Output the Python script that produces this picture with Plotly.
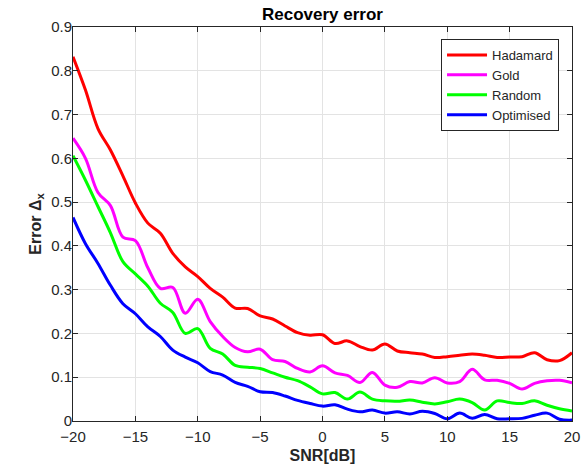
import plotly.graph_objects as go

snr = list(range(-20, 21))

hadamard = [0.832, 0.756, 0.668, 0.619, 0.560, 0.498, 0.452, 0.429, 0.383, 0.352,
            0.330, 0.303, 0.283, 0.258, 0.257, 0.240, 0.233, 0.217, 0.202, 0.196,
            0.197, 0.177, 0.183, 0.170, 0.162, 0.176, 0.160, 0.156, 0.153, 0.145,
            0.147, 0.150, 0.153, 0.150, 0.145, 0.146, 0.147, 0.156, 0.140, 0.138, 0.156]
gold = [0.646, 0.600, 0.522, 0.492, 0.420, 0.412, 0.350, 0.303, 0.305, 0.246,
        0.278, 0.227, 0.193, 0.168, 0.158, 0.164, 0.140, 0.136, 0.120, 0.112,
        0.126, 0.110, 0.104, 0.088, 0.111, 0.082, 0.077, 0.090, 0.087, 0.099,
        0.087, 0.090, 0.118, 0.094, 0.093, 0.086, 0.073, 0.086, 0.092, 0.093, 0.087]
random_ = [0.606, 0.550, 0.490, 0.430, 0.364, 0.336, 0.308, 0.269, 0.248, 0.200,
           0.211, 0.166, 0.153, 0.127, 0.123, 0.120, 0.110, 0.100, 0.092, 0.078,
           0.062, 0.065, 0.050, 0.066, 0.050, 0.046, 0.045, 0.048, 0.043, 0.039,
           0.044, 0.050, 0.042, 0.025, 0.046, 0.042, 0.040, 0.046, 0.036, 0.028, 0.023]
optimised = [0.465, 0.405, 0.360, 0.310, 0.268, 0.245, 0.215, 0.193, 0.162, 0.146,
             0.133, 0.113, 0.105, 0.088, 0.079, 0.067, 0.065, 0.057, 0.047, 0.040,
             0.034, 0.037, 0.027, 0.021, 0.025, 0.018, 0.021, 0.016, 0.022, 0.017,
             0.005, 0.018, 0.006, 0.015, 0.005, 0.005, 0.006, 0.013, 0.018, 0.004, 0.002]

xticks = list(range(-20, 21, 5))
yticks = [0, 0.1, 0.2, 0.3, 0.4, 0.5, 0.6, 0.7, 0.8, 0.9]
yticklabels = ["0", "0.1", "0.2", "0.3", "0.4", "0.5", "0.6", "0.7", "0.8", "0.9"]

series = [("Hadamard", hadamard, "#FF0000"),
          ("Gold", gold, "#FF00FF"),
          ("Random", random_, "#00FF00"),
          ("Optimised", optimised, "#0000FF")]

fig = go.Figure()
for name, vals, col in series:
    fig.add_trace(go.Scatter(x=snr, y=vals, name=name, mode="lines",
                             line=dict(color=col, width=3, shape="spline", smoothing=1.0)))

font_family = "Liberation Sans, Arial, sans-serif"
axis_common = dict(showgrid=True, gridcolor="#E3E3E3", gridwidth=1,
                   showline=True, linecolor="#262626", linewidth=1, mirror="ticks",
                   ticks="inside", ticklen=5, tickcolor="#262626",
                   tickfont=dict(family=font_family, size=15, color="#262626"),
                   zeroline=False, automargin=False)

fig.update_xaxes(range=[-20, 20], tickvals=xticks, ticklabelstandoff=2,
                 title=dict(text="<b>SNR[dB]</b>", font=dict(family=font_family, size=16, color="#262626"),
                            standoff=5),
                 **axis_common)
fig.update_yaxes(range=[0, 0.9], tickvals=yticks, ticktext=yticklabels, ticklabelstandoff=-3,
                 title=dict(text="<b>Error \u0394<sub>x</sub></b>", font=dict(family=font_family, size=16, color="#262626"),
                            standoff=5),
                 **axis_common)

fig.update_layout(
    width=585, height=473,
    margin=dict(l=73, r=13, t=27, b=52),
    paper_bgcolor="white", plot_bgcolor="white",
    title=dict(text="<b>Recovery error</b>", x=(73 + 572) / 2 / 585, xanchor="center",
               y=1 - 14 / 473, yanchor="middle",
               font=dict(family=font_family, size=17, color="#000000")),
    legend=dict(x=0.974, y=0.9695, xanchor="right", yanchor="top",
                bgcolor="white", bordercolor="#262626", borderwidth=1,
                font=dict(family=font_family, size=13, color="#262626"),
                tracegroupgap=0, itemwidth=40),
    showlegend=True,
)

fig.write_html("out.html")
